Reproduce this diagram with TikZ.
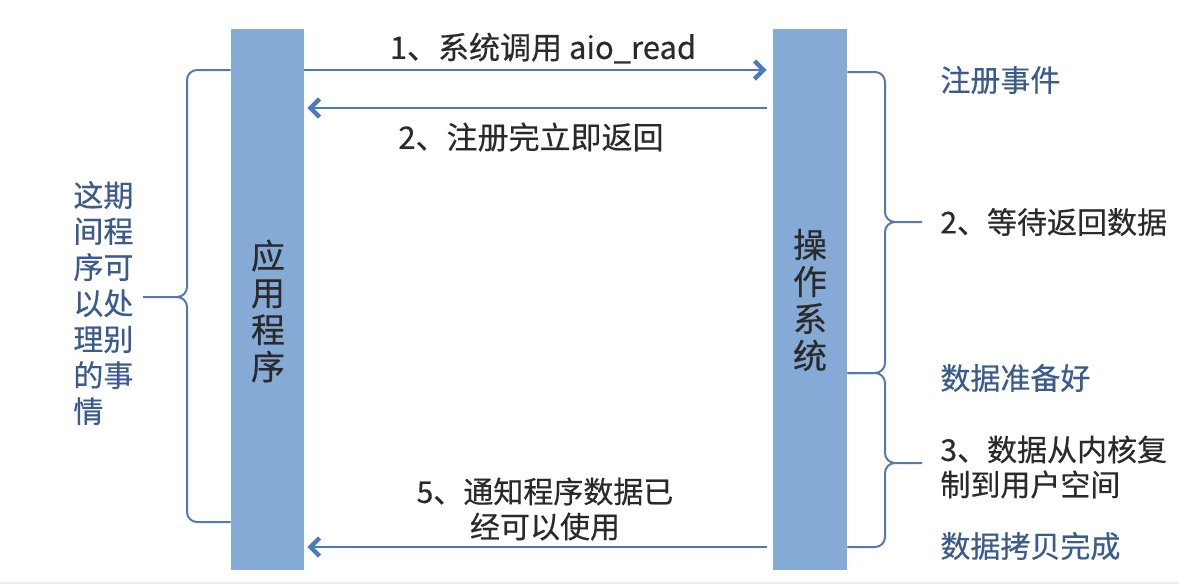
\documentclass[tikz,border=0pt]{standalone}
\usepackage{fontspec}
\setmainfont{Noto Sans CJK SC}[FakeBold=0.4]
\usepackage{xcolor}
\usepackage{tikz}
\usetikzlibrary{arrows.meta}
\definecolor{barfill}{HTML}{85AAD6}
\definecolor{flowc}{HTML}{4A7BBA}
\definecolor{bracec}{HTML}{5679AD}
\definecolor{bluetext}{HTML}{3A5B8C}
\definecolor{dark}{HTML}{2A2A2A}
\tikzset{
  bar/.style={fill=barfill, draw=none, minimum width=36.5pt, minimum height=270.5pt, inner sep=0pt},
  bartext/.style={text=dark, font=\fontsize{17}{18.5}\selectfont, align=center, inner sep=0pt},
  flow/.style={draw=flowc, line width=1.2pt, -{Straight Barb[length=4.5pt,width=9pt,line width=2.2pt]}},
  brace/.style={draw=bracec, line width=1pt, rounded corners=5pt},
  lab/.style={text=dark, font=\fontsize{15.5}{18}\selectfont, align=center, inner sep=0pt},
  labr/.style={text=dark, font=\fontsize{15}{17.5}\selectfont, align=left, anchor=west, inner sep=0pt},
  note/.style={text=bluetext, font=\fontsize{15}{18}\selectfont, align=left, anchor=west, inner sep=0pt},
}

\begin{document}
\begin{tikzpicture}[x=0.5pt, y=-0.5pt]
  \useasboundingbox (0,0) rectangle (1179,585);

  \node[bar] (app) at (267.5,299.5) {};
  \node[bar, minimum width=37pt] (os) at (810,299.5) {};
  \node[bartext] (appname) at (268,311) {应\\用\\程\\序};
  \node[bartext] (osname) at (810,300) {操\\作\\系\\统};

  \draw[flow, shorten >=3pt] (app.east |- 0,70) -- (os.west |- 0,70);
  \draw[flow, shorten <=3pt, shorten >=1.5pt] (os.west |- 0,108) -- (app.east |- 0,108);
  \draw[flow, shorten <=3pt, shorten >=1.5pt] (os.west |- 0,547) -- (app.east |- 0,547);

  \node[lab] (call) at (543,48) {1、系统调用 aio\_read};
  \node[lab] (ret) at (531,137) {2、注册完立即返回};
  \node[lab, font=\fontsize{15}{17.5}\selectfont] (notify) at (545,509) {5、通知程序数据已\\经可以使用};

  % braces
  \draw[brace] (os.east |- 0,72) -- (885,72) -- (885,222) -- (922,222)
               (922,222) -- (885,222) -- (885,373) -- (os.east |- 0,373);
  \draw[brace] (os.east |- 0,373) -- (885,373) -- (885,463) -- (922,463)
               (922,463) -- (885,463) -- (885,547) -- (os.east |- 0,547);
  \draw[brace] (app.west |- 0,70) -- (187,70) -- (187,297) -- (143,297)
               (143,297) -- (187,297) -- (187,522) -- (app.west |- 0,522);

  \node[note] (reg) at (940,80) {注册事件};
  \node[labr] (wait) at (940,222) {2、等待返回数据};
  \node[note] (ready) at (940,378) {数据准备好};
  \node[labr] (copy) at (940,467) {3、数据从内核复\\制到用户空间};
  \node[note] (done) at (940,546) {数据拷贝完成};
  \node[note] (meanwhile) at (73,303) {这期\\间程\\序可\\以处\\理别\\的事\\情};

  \draw[gray!15, line width=1pt] (0,583) -- (1179,583);
\end{tikzpicture}
\end{document}
